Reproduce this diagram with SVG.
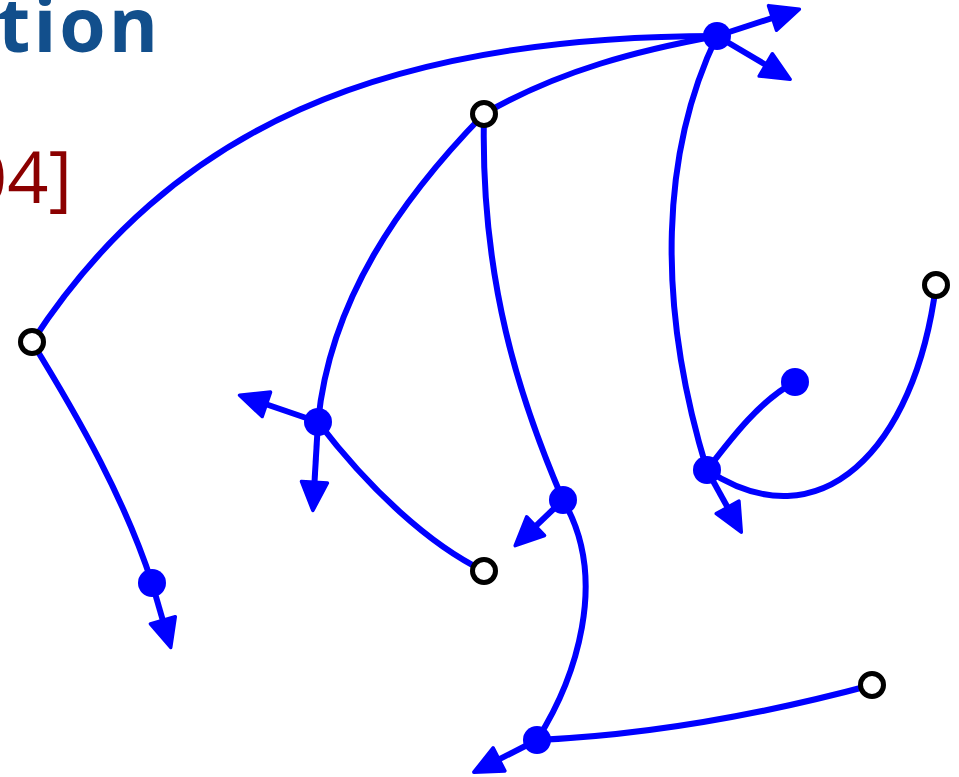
<svg xmlns="http://www.w3.org/2000/svg" width="959" height="777" viewBox="0 0 959 777">
<style>
.e{fill:none;stroke:#0000ff;stroke-width:6;stroke-linecap:round}
.a{fill:none;stroke:#0000ff;stroke-width:6;marker-end:url(#ah)}
.f{fill:#0000ff}
.o{fill:#ffffff;stroke:#000000;stroke-width:5}
</style>
<defs>
<marker id="ah" markerUnits="userSpaceOnUse" markerWidth="40" markerHeight="40" refX="10" refY="11" orient="auto" viewBox="-3 -3 34 28">
<path d="M0,0 L24,11 L0,22 Z" fill="#0000ff" stroke="#0000ff" stroke-width="3" stroke-linejoin="round"/>
</marker>
</defs>
<text x="161" y="52" text-anchor="end" font-family="Open Sans, Liberation Sans, sans-serif" font-weight="bold" font-size="75" letter-spacing="3" fill="#124f8c">tion</text>
<text x="72" y="203" text-anchor="end" font-family="Open Sans, Liberation Sans, sans-serif" font-size="72" fill="#8b0000">04]</text>
<g id="connectors">
<path class="e" d="M32,342 C170,130 380,36 717,36"/>
<path class="e" d="M32,342 C80,420 125,500 152,583"/>
<path class="e" d="M484,114 C560,70 640,50 717,36"/>
<path class="e" d="M484,114 C400,200 330,300 318,422"/>
<path class="e" d="M484,114 C480,280 520,400 563,500"/>
<path class="e" d="M717,36 C662,150 655,300 707,470"/>
<path class="e" d="M318,422 C370,490 430,545 484,571"/>
<path class="e" d="M563,500 C610,580 575,680 537,740"/>
<path class="e" d="M537,740 C650,735 760,715 872,685"/>
<path class="e" d="M707,470 C730,440 760,400 795,382"/>
<path class="e" d="M707,470 C820,545 915,450 936,285"/>
<path class="a" d="M717,36 L783.7,14.3"/>
<path class="a" d="M717,36 L775.9,70.9"/>
<path class="a" d="M318,422 L255.2,400.5"/>
<path class="a" d="M318,422 L313.8,494"/>
<path class="a" d="M563,500 L527.1,534.3"/>
<path class="a" d="M152,583 L166.1,631.6"/>
<path class="a" d="M537,740 L488.5,764.7"/>
<path class="a" d="M707,470 L733.3,517.7"/>
</g>
<g id="nA"><circle class="o" cx="32" cy="342" r="11.5"/></g>
<g id="nB"><circle class="o" cx="484" cy="114" r="11.5"/></g>
<g id="nC"><circle class="f" cx="717" cy="36" r="14"/></g>
<g id="nD"><circle class="o" cx="936" cy="285" r="11.5"/></g>
<g id="nE"><circle class="f" cx="795" cy="382" r="14"/></g>
<g id="nF"><circle class="f" cx="707" cy="470" r="14"/></g>
<g id="nG"><circle class="f" cx="318" cy="422" r="14"/></g>
<g id="nH"><circle class="f" cx="563" cy="500" r="14"/></g>
<g id="nI"><circle class="o" cx="484" cy="571" r="11.5"/></g>
<g id="nJ"><circle class="f" cx="152" cy="583" r="14"/></g>
<g id="nK"><circle class="f" cx="537" cy="740" r="14"/></g>
<g id="nL"><circle class="o" cx="872" cy="685" r="11.5"/></g>
</svg>
